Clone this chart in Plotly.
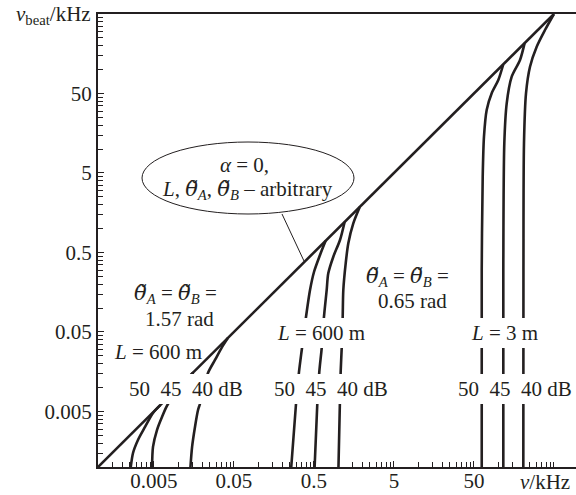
import plotly.graph_objects as go

# ---------------- data (kHz) ----------------
x_tick_vals = [0.005, 0.05, 0.5, 5, 50]
x_tick_text = ["0.005", "0.05", "0.5", "5", "50"]
y_tick_vals = [0.005, 0.05, 0.5, 5, 50]
y_tick_text = ["0.005", "0.05", "0.5", "5", "50"]
minor_decades = [0.001, 0.01, 0.1, 1, 10, 100]
minor_mult = [1, 1.5, 2, 2.5, 3, 3.5, 4, 4.5]
extra_tick = [500]

# alpha = 0 line (nu_beat = nu)
diag_x = [0.001, 500]
diag_y = [0.001, 500]

# L = 600 m, theta = 1.57 rad
left50_x = [0.0025, 0.00274, 0.00316, 0.00387, 0.00487, 0.006]
left50_y = [0.0008, 0.0015, 0.00219, 0.00319, 0.00478, 0.006]
left45_x = [0.00473, 0.00487, 0.00546, 0.00631, 0.0075, 0.0155]
left45_y = [0.0008, 0.00179, 0.00292, 0.00426, 0.0062, 0.0155]
left40_x = [0.0141, 0.0150, 0.0163, 0.0178, 0.0188, 0.0237, 0.0290, 0.0355, 0.042]
left40_y = [0.0008, 0.00179, 0.00319, 0.00521, 0.0062, 0.0152, 0.0222, 0.0323, 0.042]

# L = 600 m, theta = 0.65 rad
mid50_x = [0.256, 0.2985, 0.3255, 0.3548, 0.398, 0.447, 0.501, 0.596, 0.70]
mid50_y = [0.0008, 0.0062, 0.0157, 0.0314, 0.0771, 0.1685, 0.284, 0.4645, 0.70]
mid45_x = [0.5056, 0.551, 0.584, 0.6255, 0.668, 0.722, 0.756, 0.874, 1.059, 1.21]
mid45_y = [0.0008, 0.0062, 0.0158, 0.0313, 0.0777, 0.1685, 0.273, 0.442, 0.717, 1.21]
mid40_x = [1.0087, 1.055, 1.08, 1.1125, 1.145, 1.165, 1.248, 1.3455, 1.553, 1.87]
mid40_y = [0.0008, 0.0062, 0.0158, 0.0313, 0.0777, 0.1685, 0.365, 0.652, 1.1635, 1.87]

# L = 3 m, theta = 0.65 rad
right50_x = [62.6, 62.6, 64.4, 66.8, 72.2, 83.4, 100.9, 116]
right50_y = [0.0008, 0.30, 4.49, 14.3, 31.0, 50.3, 73.9, 115]
right45_x = [116.5, 116.5, 119.9, 128.5, 148.4, 188.4, 215]
right45_y = [0.0008, 0.30, 11.8, 37.6, 81.3, 131.9, 215]
right40_x = [207.2, 208, 211.3, 223.9, 251.2, 304.6, 386.8, 500]
right40_y = [0.0008, 0.30, 11.8, 50.25, 108.6, 193.9, 314.5, 500]

curves = [
    (left50_x, left50_y), (left45_x, left45_y), (left40_x, left40_y),
    (mid50_x, mid50_y), (mid45_x, mid45_y), (mid40_x, mid40_y),
    (right50_x, right50_y), (right45_x, right45_y), (right40_x, right40_y),
]

INK = "#231f20"
FONT = "Liberation Serif"
FS = 21

fig = go.Figure()
fig.add_trace(go.Scatter(x=diag_x, y=diag_y, mode="lines",
                         line=dict(color=INK, width=2.6), showlegend=False, hoverinfo="skip"))
for cx, cy in curves:
    fig.add_trace(go.Scatter(x=cx, y=cy, mode="lines", line_shape="spline",
                             line=dict(color=INK, width=2.6, smoothing=0.8),
                             showlegend=False, hoverinfo="skip"))

minor_vals = [d * m for d in minor_decades for m in minor_mult] + extra_tick

# plot area geometry in pixels (for paper coords of annotations)
L_PX, R_PX, T_PX, B_PX = 98, 576, 14, 467
W = R_PX - L_PX
H = B_PX - T_PX


def px(xp):
    return (xp - L_PX) / W


def py(yp):
    return (B_PX - yp) / H


def ann(text, xp, yp, xanchor="center", bg=None, pad=1, size=FS):
    d = dict(text=text, x=px(xp), y=py(yp), xref="paper", yref="paper",
             showarrow=False, xanchor=xanchor, yanchor="middle",
             font=dict(family=FONT, size=size, color=INK), borderpad=pad,
             borderwidth=0)
    if bg:
        d["bgcolor"] = bg
    return d


TH = "<span style=\"font-family:'DejaVu Serif'\"><i>θ\u0303</i></span>"
th_a = f"{TH}<i><sub>A</sub></i>"
th_b = f"{TH}<i><sub>B</sub></i>"
nb = "\u00a0"
db_row = f"50{nb}{nb}45{nb}{nb}40 dB"

annotations = [
    ann("<i>α</i> = 0,", 244, 165),
    ann(f"<i>L</i>, {th_a}, {th_b} – arbitrary", 247, 190),
    ann(f"{th_a} = {th_b} =", 175, 294),
    ann("1.57 rad", 179, 319),
    ann("<i>L</i> = 600 m", 158, 352),
    ann(db_row, 185.5, 389, bg="white", pad=3),
    ann(f"{th_a} = {th_b} =", 407, 277),
    ann("0.65 rad", 412, 301),
    ann("<i>L</i> = 600 m", 321, 333, bg="white", pad=3),
    ann(db_row, 330.5, 389, bg="white", pad=3),
    ann("<i>L</i> = 3 m", 504, 333, bg="white", pad=3),
    ann(db_row, 515, 389, bg="white", pad=3),
    ann("<i>ν</i><sub>beat</sub>/kHz", 92, 15, xanchor="right"),
    ann("<i>ν</i>/kHz", 545, 482),
]

shapes = [
    dict(type="circle", xref="paper", yref="paper",
         x0=px(142), x1=px(354), y0=py(214), y1=py(142),
         line=dict(color=INK, width=1)),
    dict(type="line", xref="paper", yref="paper",
         x0=px(282), y0=py(214), x1=px(304), y1=py(261),
         line=dict(color=INK, width=1)),
]

axis_common = dict(
    type="log", showgrid=False, zeroline=False, showline=True,
    linecolor=INK, linewidth=2, ticks="inside", ticklen=6, tickwidth=1,
    tickcolor=INK, tickmode="array",
    tickfont=dict(family=FONT, size=FS, color=INK),
    minor=dict(tickmode="array", tickvals=minor_vals, ticks="inside",
               ticklen=5, tickwidth=1, tickcolor=INK, showgrid=False),
)

fig.update_layout(
    width=576, height=495,
    margin=dict(l=L_PX, r=576 - R_PX, t=T_PX, b=495 - B_PX, pad=0,
                autoexpand=False),
    paper_bgcolor="white", plot_bgcolor="white",
    xaxis=dict(axis_common, range=[-3, 2.975], tickvals=x_tick_vals,
               ticktext=x_tick_text, mirror=True, automargin=False,
               ticklabelstandoff=-6),
    yaxis=dict(axis_common, range=[-3, 2.699], tickvals=y_tick_vals,
               ticktext=y_tick_text, automargin=False),
    annotations=annotations,
    shapes=shapes,
    showlegend=False,
)

fig.write_html(
    "out.html",
    config={"displayModeBar": False, "staticPlot": True},
    post_script="document.body.style.margin='0';document.body.style.overflow='hidden';",
)
